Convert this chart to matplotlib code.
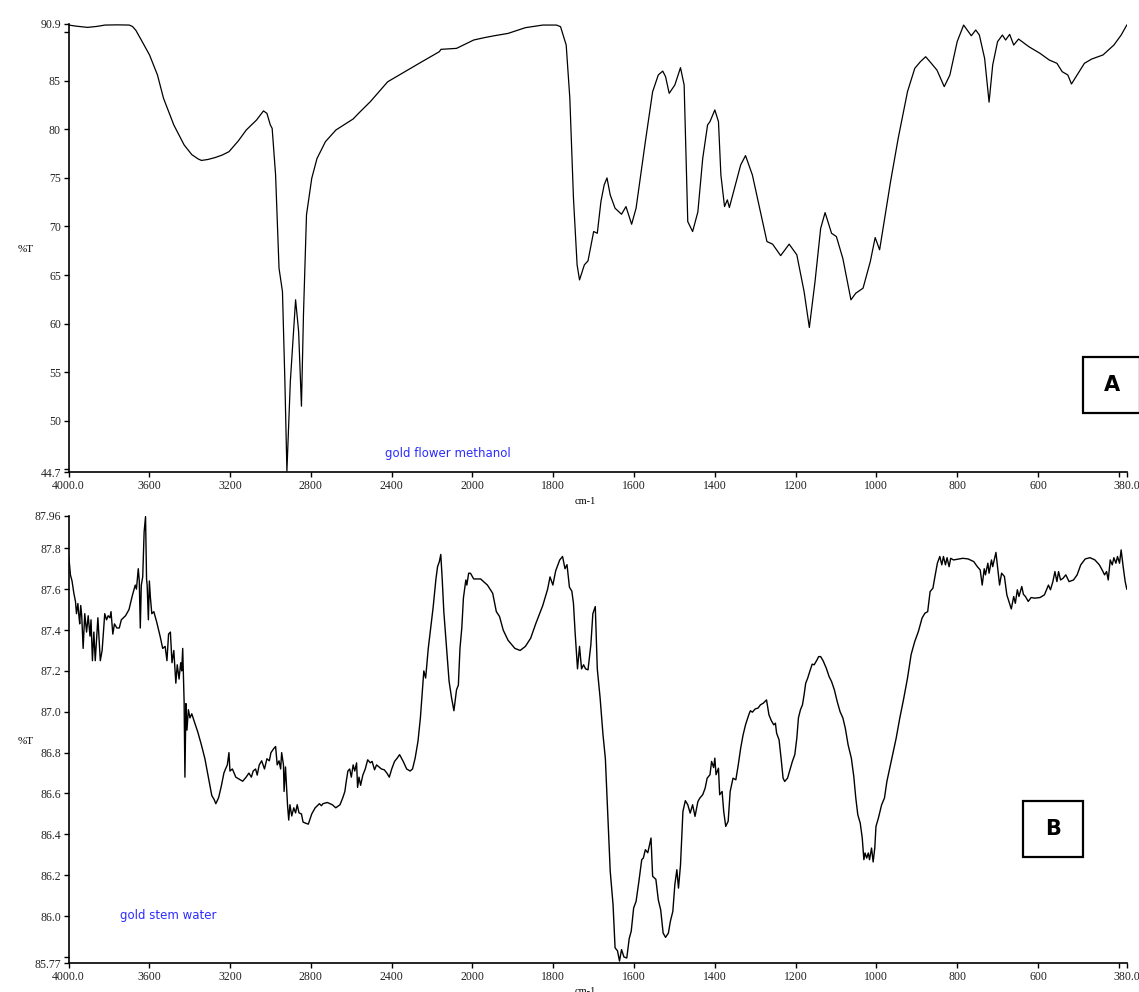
import numpy as np
import matplotlib
matplotlib.use("Agg")
import matplotlib.pyplot as plt
from matplotlib.patches import Rectangle

# ---- spectrum A: gold flower methanol (wavenumber cm-1, %T) ----
wn_a = [4000, 3960, 3906, 3860, 3820, 3760, 3700, 3684, 3667, 3640, 3599, 3560, 3530,
        3479, 3428, 3390, 3359, 3342, 3310, 3274, 3240, 3206, 3160, 3120, 3069, 3035,
        3018, 3001, 2992, 2975, 2958, 2941, 2929, 2919, 2902, 2876, 2861, 2847, 2837,
        2822, 2796, 2770, 2728, 2676, 2591, 2557, 2506, 2420, 2335, 2250, 2164, 2156,
        2079, 1997, 1971, 1946, 1912, 1869, 1826, 1792, 1782, 1768, 1759, 1750, 1741,
        1735, 1723, 1714, 1700, 1691, 1682, 1674, 1667, 1659, 1647, 1631, 1620, 1606,
        1595, 1572, 1554, 1540, 1529, 1522, 1513, 1499, 1485, 1476, 1467, 1455, 1442,
        1430, 1418, 1412, 1400, 1391, 1385, 1376, 1369, 1364, 1348, 1336, 1324, 1307,
        1289, 1271, 1257, 1237, 1216, 1197, 1179, 1166, 1152, 1138, 1127, 1111, 1099,
        1083, 1063, 1051, 1033, 1015, 1003, 992, 978, 965, 946, 923, 905, 891, 878,
        864, 850, 832, 818, 800, 784, 765, 754, 745, 732, 721, 712, 700, 688, 680,
        670, 660, 648, 622, 595, 572, 553, 540, 526, 517, 503, 485, 467, 439, 412,
        394, 380]
t_a = [90.74, 90.62, 90.5, 90.6, 90.74, 90.76, 90.74, 90.6, 90.2, 89.2, 87.65, 85.6, 83.2,
       80.45, 78.4, 77.4, 76.96, 76.8, 76.9, 77.1, 77.35, 77.7, 78.8, 79.94, 80.97, 81.9,
       81.65, 80.45, 80.1, 75.3, 65.7, 63.3, 54.05, 44.8, 54.05, 62.45, 59.2, 51.5, 60.9,
       71.2, 74.96, 77.0, 78.74, 79.94, 81.07, 81.8, 82.85, 84.9, 85.94, 86.97, 88.0, 88.24,
       88.34, 89.2, 89.44, 89.64, 89.88, 90.47, 90.74, 90.74, 90.57, 88.68, 83.2, 72.9, 66.05,
       64.5, 66.05, 66.46, 69.48, 69.3, 72.57, 74.28, 75.0, 73.25, 71.88, 71.26, 72.05, 70.23,
       71.88, 78.74, 83.88, 85.6, 86.0, 85.43, 83.71, 84.57, 86.35, 84.57, 70.5, 69.48, 71.5,
       77.0, 80.45, 80.8, 82.0, 80.8, 75.3, 72.05, 72.74, 71.95, 74.45, 76.34, 77.3, 75.3,
       71.88, 68.45, 68.18, 67.0, 68.18, 67.08, 63.3, 59.6, 64.3, 69.8, 71.43, 69.3, 68.96,
       66.7, 62.45, 63.13, 63.65, 66.4, 68.86, 67.6, 71.2, 74.6, 79.08, 83.88, 86.28, 86.97, 87.48,
       86.8, 86.1, 84.4, 85.6, 89.03, 90.74, 89.64, 90.23, 89.71, 87.3, 82.8, 86.63, 89.03, 89.71, 89.2,
       89.78, 88.68, 89.3, 88.5, 87.83, 87.14, 86.8, 85.94, 85.6, 84.67, 85.6, 86.8, 87.24, 87.66, 88.68,
       89.71, 90.74]

# ---- spectrum B: gold stem water (wavenumber cm-1, %T) ----
wn_b = [4000, 3991, 3983, 3974, 3966, 3961, 3954, 3949, 3945, 3940, 3935, 3928, 3920, 3911,
        3903, 3894, 3889, 3882, 3875, 3868, 3862, 3855, 3843, 3834, 3821, 3812, 3804, 3795,
        3790, 3781, 3773, 3761, 3749, 3739, 3718, 3701, 3684, 3670, 3664, 3655, 3650, 3645,
        3640, 3633, 3626, 3619, 3614, 3611, 3605, 3600, 3595, 3588, 3578, 3564, 3547, 3534,
        3522, 3513, 3505, 3496, 3488, 3479, 3469, 3462, 3453, 3445, 3440, 3435, 3428, 3424,
        3419, 3414, 3407, 3399, 3390, 3377, 3360, 3343, 3325, 3308, 3291, 3279, 3271, 3257,
        3243, 3231, 3223, 3214, 3206, 3201, 3189, 3172, 3155, 3138, 3121, 3107, 3095, 3086,
        3074, 3066, 3056, 3044, 3030, 3018, 3006, 2998, 2984, 2975, 2967, 2958, 2950, 2945,
        2936, 2933, 2926, 2916, 2910, 2904, 2895, 2885, 2876, 2868, 2859, 2847, 2839, 2827,
        2813, 2796, 2779, 2758, 2748, 2741, 2719, 2694, 2677, 2656, 2642, 2632, 2625, 2617,
        2608, 2600, 2591, 2583, 2574, 2569, 2562, 2554, 2543, 2531, 2519, 2506, 2497, 2485,
        2475, 2463, 2451, 2437, 2424, 2412, 2400, 2386, 2373, 2361, 2343, 2326, 2309, 2297,
        2284, 2270, 2258, 2250, 2241, 2232, 2219, 2207, 2195, 2181, 2173, 2164, 2157, 2150,
        2142, 2130, 2116, 2104, 2092, 2079, 2070, 2062, 2053, 2045, 2033, 2028, 2019, 2010,
        1997, 1980, 1963, 1950, 1941, 1933, 1924, 1912, 1895, 1882, 1869, 1856, 1843, 1826,
        1814, 1808, 1801, 1794, 1784, 1777, 1771, 1766, 1760, 1754, 1750, 1746, 1740, 1735,
        1730, 1725, 1720, 1714, 1707, 1702, 1696, 1691, 1684, 1677, 1671, 1665, 1659, 1652,
        1647, 1641, 1636, 1631, 1625, 1618, 1612, 1607, 1601, 1595, 1588, 1581, 1577, 1572,
        1566, 1558, 1554, 1546, 1540, 1534, 1528, 1522, 1515, 1510, 1504, 1499, 1494, 1490,
        1485, 1479, 1473, 1467, 1461, 1455, 1449, 1442, 1437, 1430, 1424, 1419, 1412, 1408,
        1403, 1400, 1397, 1391, 1388, 1382, 1378, 1373, 1367, 1362, 1355, 1348, 1342, 1336,
        1330, 1324, 1316, 1312, 1307, 1300, 1293, 1287, 1280, 1272, 1266, 1260, 1254, 1250,
        1247, 1241, 1236, 1231, 1227, 1220, 1214, 1208, 1202, 1197, 1193, 1188, 1183, 1179,
        1175, 1170, 1165, 1159, 1154, 1147, 1143, 1138, 1132, 1124, 1117, 1111, 1104, 1097,
        1090, 1083, 1077, 1070, 1062, 1056, 1051, 1046, 1040, 1035, 1031, 1028, 1024, 1020,
        1017, 1012, 1008, 1004, 1001, 995, 987, 980, 974, 967, 960, 951, 942, 933, 923,
        914, 905, 896, 887, 880, 873, 867, 860, 855, 849, 843, 838, 834, 829, 825, 820,
        816, 809, 800, 786, 773, 759, 750, 743, 738, 733, 730, 724, 721, 715, 712, 704,
        700, 695, 690, 683, 677, 672, 666, 660, 656, 651, 647, 640, 636, 631, 624, 617,
        608, 595, 584, 574, 569, 563, 558, 553, 549, 544, 538, 531, 523, 512, 503, 494,
        483, 471, 459, 448, 441, 435, 430, 426, 421, 416, 412, 407, 403, 398, 394, 389,
        384, 380]
t_b = [87.77, 87.67, 87.64, 87.58, 87.54, 87.48, 87.53, 87.47, 87.43, 87.52, 87.47, 87.31, 87.48, 87.39,
       87.47, 87.37, 87.45, 87.25, 87.39, 87.25, 87.35, 87.46, 87.25, 87.30, 87.48, 87.45, 87.47, 87.46,
       87.49, 87.38, 87.43, 87.41, 87.41, 87.45, 87.47, 87.50, 87.57, 87.62, 87.60, 87.70, 87.64, 87.41,
       87.62, 87.66, 87.88, 87.955, 87.65, 87.62, 87.45, 87.64, 87.56, 87.48, 87.49, 87.44, 87.37, 87.31,
       87.32, 87.25, 87.38, 87.39, 87.24, 87.30, 87.14, 87.23, 87.16, 87.24, 87.20, 87.31, 87.05, 86.68,
       87.04, 86.91, 87.01, 86.97, 86.99, 86.95, 86.90, 86.84, 86.77, 86.68, 86.59, 86.57, 86.55, 86.58,
       86.64, 86.70, 86.72, 86.74, 86.80, 86.71, 86.72, 86.68, 86.67, 86.66, 86.68, 86.70, 86.68, 86.71,
       86.72, 86.69, 86.74, 86.76, 86.72, 86.77, 86.76, 86.80, 86.82, 86.83, 86.74, 86.76, 86.72, 86.80,
       86.74, 86.61, 86.73, 86.545, 86.47, 86.545, 86.49, 86.53, 86.505, 86.545, 86.505, 86.50, 86.46, 86.455,
       86.45, 86.50, 86.53, 86.55, 86.54, 86.55, 86.556, 86.545, 86.53, 86.545, 86.58, 86.61, 86.66, 86.71,
       86.72, 86.68, 86.74, 86.71, 86.75, 86.63, 86.68, 86.64, 86.69, 86.72, 86.765, 86.75, 86.757, 86.716,
       86.74, 86.73, 86.72, 86.716, 86.70, 86.68, 86.72, 86.757, 86.773, 86.79, 86.757, 86.72, 86.71, 86.72,
       86.773, 86.855, 86.97, 87.08, 87.20, 87.165, 87.31, 87.41, 87.51, 87.65, 87.71, 87.735, 87.77, 87.65,
       87.49, 87.33, 87.15, 87.07, 87.005, 87.108, 87.13, 87.31, 87.41, 87.556, 87.645, 87.62, 87.678, 87.678,
       87.65, 87.65, 87.62, 87.58, 87.49, 87.466, 87.40, 87.35, 87.31, 87.30, 87.32, 87.36, 87.433, 87.52,
       87.60, 87.66, 87.62, 87.69, 87.743, 87.76, 87.70, 87.72, 87.61, 87.59, 87.53, 87.39, 87.21, 87.32,
       87.21, 87.23, 87.21, 87.205, 87.327, 87.48, 87.515, 87.21, 87.067, 86.89, 86.77, 86.496, 86.22, 86.056,
       85.845, 85.83, 85.78, 85.836, 85.80, 85.795, 85.89, 85.926, 86.04, 86.072, 86.17, 86.276, 86.284, 86.325,
       86.31, 86.382, 86.195, 86.18, 86.08, 86.03, 85.917, 85.896, 85.917, 85.975, 86.023, 86.154, 86.227, 86.137,
       86.25, 86.512, 86.565, 86.545, 86.504, 86.545, 86.488, 86.56, 86.578, 86.594, 86.626, 86.675, 86.692, 86.757,
       86.727, 86.773, 86.692, 86.724, 86.594, 86.61, 86.512, 86.439, 86.464, 86.61, 86.675, 86.667, 86.74, 86.822,
       86.887, 86.936, 86.985, 87.005, 86.998, 87.014, 87.018, 87.034, 87.042, 87.058, 86.985, 86.956, 86.936, 86.944,
       86.895, 86.863, 86.773, 86.675, 86.659, 86.675, 86.716, 86.757, 86.79, 86.871, 86.97, 87.01, 87.034, 87.083,
       87.14, 87.165, 87.197, 87.233, 87.23, 87.254, 87.27, 87.27, 87.25, 87.213, 87.172, 87.148, 87.107, 87.05,
       87.001, 86.97, 86.92, 86.838, 86.773, 86.684, 86.578, 86.496, 86.455, 86.382, 86.276, 86.309, 86.284, 86.309,
       86.276, 86.333, 86.265, 86.333, 86.439, 86.48, 86.545, 86.578, 86.659, 86.724, 86.79, 86.871, 86.97, 87.058, 87.164,
       87.28, 87.344, 87.393, 87.458, 87.482, 87.49, 87.588, 87.605, 87.662, 87.727, 87.76, 87.719, 87.76, 87.719, 87.754, 87.71,
       87.751, 87.743, 87.746, 87.751, 87.748, 87.735, 87.71, 87.694, 87.62, 87.70, 87.67, 87.727, 87.678, 87.743, 87.71, 87.78,
       87.71, 87.62, 87.678, 87.662, 87.572, 87.54, 87.503, 87.564, 87.531, 87.597, 87.564, 87.613, 87.575, 87.564, 87.54, 87.559,
       87.556, 87.559, 87.572, 87.62, 87.597, 87.637, 87.686, 87.637, 87.686, 87.645, 87.653, 87.67, 87.637, 87.645, 87.67, 87.719,
       87.748, 87.754, 87.743, 87.719, 87.694, 87.67, 87.686, 87.645, 87.743, 87.719, 87.754, 87.727, 87.76, 87.727, 87.792, 87.71,
       87.637, 87.60]

x_ticks = [4000, 3600, 3200, 2800, 2400, 2000, 1800, 1600, 1400, 1200, 1000, 800, 600, 400, 380]
x_labels = ['4000.0', '3600', '3200', '2800', '2400', '2000', '1800', '1600', '1400',
            '1200', '1000', '800', '600', '', '380.0']
ya_ticks = [44.7, 45, 50, 55, 60, 65, 70, 75, 80, 85, 90, 90.9]
ya_labels = ['44.7', '', '50', '55', '60', '65', '70', '75', '80', '85', '', '90.9']
yb_ticks = [85.77, 85.8, 86.0, 86.2, 86.4, 86.6, 86.8, 87.0, 87.2, 87.4, 87.6, 87.8, 87.96]
yb_labels = ['85.77', '', '86.0', '86.2', '86.4', '86.6', '86.8', '87.0', '87.2', '87.4',
             '87.6', '87.8', '87.96']


# x axis is compressed x2 above 2000 cm-1 (usual FTIR scale change)
def fwd(w):
    w = np.asarray(w, dtype=float)
    return np.where(w >= 2000, (w - 2000) / 400.0, (w - 2000) / 200.0)


def inv(u):
    u = np.asarray(u, dtype=float)
    return np.where(u >= 0, 2000 + 400.0 * u, 2000 + 200.0 * u)


W, H = 1139, 992
fig = plt.figure(figsize=(W / 100, H / 100), dpi=100)
serif = 'Liberation Serif'


def setup(ax, yticks, ylabels, ylim):
    ax.set_xscale('function', functions=(fwd, inv))
    ax.set_xlim(4000, 380)
    ax.set_ylim(*ylim)
    ax.set_xticks(x_ticks)
    ax.set_xticklabels(x_labels)
    ax.set_yticks(yticks)
    ax.set_yticklabels(ylabels)
    ax.minorticks_off()
    for s in ['top', 'right']:
        ax.spines[s].set_visible(False)
    for s in ['left', 'bottom']:
        ax.spines[s].set_linewidth(1.2)
    ax.tick_params(direction='out', length=3.5, width=1, pad=2, labelsize=8.5)
    for lab in ax.get_xticklabels() + ax.get_yticklabels():
        lab.set_fontfamily(serif)
        lab.set_color('#222222')
    ax.set_xlabel('cm-1', fontsize=7.5, family=serif)
    ax.set_ylabel('%T', fontsize=8, family=serif, rotation=0)


ax1 = fig.add_axes([68.6 / W, 1 - 472.2 / H, 1058.2 / W, 448.7 / H])
ax1.plot(wn_a, t_a, color='black', lw=0.9)
setup(ax1, ya_ticks, ya_labels, (44.7, 90.9))
ax1.xaxis.set_label_coords((585 - 68.6) / 1058.2, -0.055)
ax1.yaxis.set_label_coords(-0.041, 0.486)
ax1.text((448 - 68.6) / 1058.2, (472.2 - 453) / 448.7, 'gold flower methanol',
         transform=ax1.transAxes, color='#2b2bff', fontsize=8.5,
         ha='center', va='center', family='DejaVu Sans')

ax2 = fig.add_axes([68.6 / W, 1 - 963.1 / H, 1058.2 / W, 447.5 / H])
ax2.plot(wn_b, t_b, color='black', lw=1.0)
setup(ax2, yb_ticks, yb_labels, (85.77, 87.96))
ax2.xaxis.set_label_coords((585 - 68.6) / 1058.2, -0.053)
ax2.yaxis.set_label_coords(-0.041, 0.485)
ax2.text((168 - 68.6) / 1058.2, (963.1 - 916) / 447.5, 'gold stem water',
         transform=ax2.transAxes, color='#2b2bff', fontsize=8.5,
         ha='center', va='center', family='DejaVu Sans')

# boxed panel letters
for (x0, y0, x1, y1, letter) in [(1083, 357, 1140, 413, 'A'), (1023, 801, 1083, 857, 'B')]:
    fig.patches.append(Rectangle((x0 / W, 1 - y1 / H), (x1 - x0) / W, (y1 - y0) / H,
                                 transform=fig.transFigure, fill=False, lw=1.6,
                                 edgecolor='black', clip_on=False))
    fig.text((x0 + x1) / 2 / W, 1 - (y0 + y1) / 2 / H, letter, fontsize=15,
             fontweight='bold', ha='center', va='center', family='DejaVu Sans')

fig.savefig('out.png', dpi=100)
